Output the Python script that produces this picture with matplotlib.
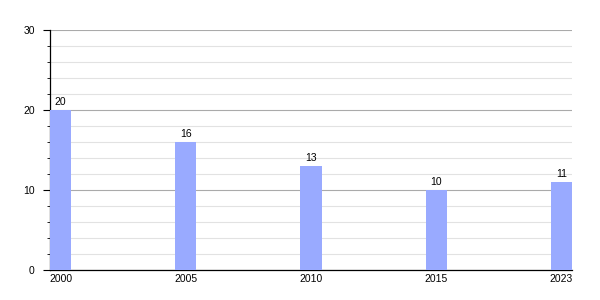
import matplotlib.pyplot as plt
from matplotlib.ticker import MultipleLocator

years = ["2000", "2005", "2010", "2015", "2023"]
values = [20, 16, 13, 10, 11]

plt.rcParams['font.family'] = ['Liberation Sans', 'DejaVu Sans']

fig = plt.figure(figsize=(6, 3), dpi=100)
ax = fig.add_axes([50 / 600, 0.1, 522 / 600, 0.8])

w = 0.168
x = list(range(len(years)))
ax.bar(x, values, width=w, color="#99aaff", zorder=3)
for xi, v in zip(x, values):
    ax.text(xi, v + 0.4, str(v), ha="center", va="bottom", fontsize=7.5, zorder=4)

ax.set_xlim(-w / 2, len(years) - 1 + w / 2)
ax.set_ylim(0, 30)
ax.set_xticks(x)
ax.set_xticklabels(years)
ax.yaxis.set_major_locator(MultipleLocator(10))
ax.yaxis.set_minor_locator(MultipleLocator(2))
ax.grid(axis="y", which="major", color="#aaaaaa", linewidth=0.8, zorder=0)
ax.grid(axis="y", which="minor", color="#e2e2e2", linewidth=0.8, zorder=0)
ax.tick_params(axis="x", length=0, labelsize=7.5, pad=3)
ax.tick_params(axis="y", which="major", length=5, labelsize=7.5, pad=6)
ax.tick_params(axis="y", which="minor", length=2.5)
for s in ["top", "right"]:
    ax.spines[s].set_visible(False)
ax.spines["left"].set_linewidth(0.9)
ax.spines["bottom"].set_linewidth(0.9)

fig.savefig("out.png")
